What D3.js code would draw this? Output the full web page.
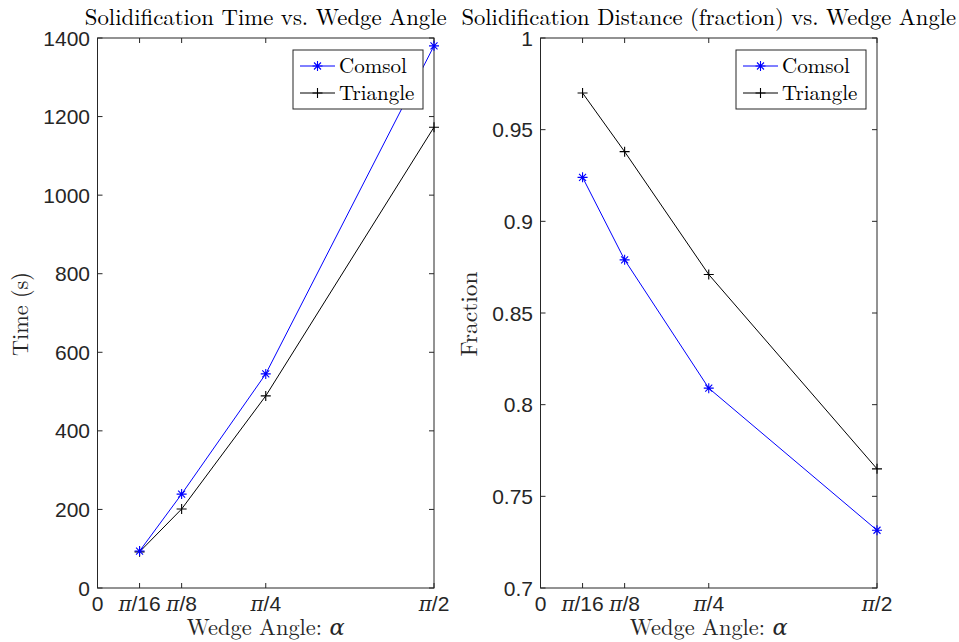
<!DOCTYPE html>
<html><head><meta charset="utf-8">
<script src="https://cdn.jsdelivr.net/npm/d3@7"></script>
<style>body{margin:0;background:#fff}svg{display:block}</style>
</head><body>
<svg id="c" width="959" height="642"></svg>
<script>
const PI = Math.PI;
const angles = [PI/16, PI/8, PI/4, PI/2];
const xTickValues = [0, PI/16, PI/8, PI/4, PI/2];
const xTickLabels = ["0", "π/16", "π/8", "π/4", "π/2"];
const seriesNames = ["Comsol", "Triangle"];
const timeComsol = [94, 239, 545, 1380];
const timeTriangle = [92, 201, 489, 1173];
const fracComsol = [0.924, 0.879, 0.809, 0.7315];
const fracTriangle = [0.970, 0.938, 0.871, 0.765];
const timeTicks = [0, 200, 400, 600, 800, 1000, 1200, 1400];
const fracTicks = [0.7, 0.75, 0.8, 0.85, 0.9, 0.95, 1];
const titles = ["Solidification Time vs. Wedge Angle", "Solidification Distance (fraction) vs. Wedge Angle"];
const yLabels = ["Time (s)", "Fraction"];
const xLabel = "Wedge Angle: ";

const svg = d3.select("#c");
const AX = "#262626";
const serif = "'Latin Modern Roman','CMU Serif','DejaVu Serif',serif";
const sans = "'Liberation Sans',Arial,sans-serif";

function fit(sel, w){
  const n = sel.node(); const l = n.getComputedTextLength();
  const fs = parseFloat(sel.attr("font-size"));
  sel.attr("font-size", fs * w / l);
}

function star(g, x, y, s){
  const p = d3.path();
  p.moveTo(x-s,y);p.lineTo(x+s,y);
  p.moveTo(x,y-s);p.lineTo(x,y+s);
  const d=s*0.7;
  p.moveTo(x-d,y-d);p.lineTo(x+d,y+d);
  p.moveTo(x-d,y+d);p.lineTo(x+d,y-d);
  g.append("path").attr("d",p.toString()).attr("stroke","#0000ff").attr("stroke-width",1.1).attr("fill","none");
}
function plus(g, x, y, s){
  const p = d3.path();
  p.moveTo(x-s,y);p.lineTo(x+s,y);
  p.moveTo(x,y-s);p.lineTo(x,y+s);
  g.append("path").attr("d",p.toString()).attr("stroke","#000").attr("stroke-width",1.1).attr("fill","none");
}

function panel(cfg){
  const {x0,x1,y0,y1,yDomain,yTicks,yFmt,s1,s2,title,titleW,yLabel,yLabelW,yLabelX,legend} = cfg;
  const x = d3.scaleLinear().domain([0, PI/2]).range([x0,x1]);
  const y = d3.scaleLinear().domain(yDomain).range([y1,y0]);
  const g = svg.append("g");
  g.append("rect").attr("x",x0).attr("y",y0).attr("width",x1-x0).attr("height",y1-y0)
    .attr("fill","#fff").attr("stroke",AX).attr("stroke-width",1);
  const tl = 5;
  xTickValues.forEach((v,i)=>{
    const px = x(v);
    g.append("line").attr("x1",px).attr("x2",px).attr("y1",y1).attr("y2",y1-tl).attr("stroke",AX);
    g.append("line").attr("x1",px).attr("x2",px).attr("y1",y0).attr("y2",y0+tl).attr("stroke",AX);
    const t = g.append("text").attr("x",px).attr("y",y1+23).attr("text-anchor","middle")
      .attr("font-family",sans).attr("font-size",21).attr("fill",AX);
    const lab = xTickLabels[i];
    if(lab.startsWith("π")){
      t.append("tspan").attr("font-family",serif).attr("font-style","italic").attr("font-size",20).text("π");
      t.append("tspan").text(lab.slice(1));
    } else t.text(lab);
  });
  yTicks.forEach(v=>{
    const py = y(v);
    g.append("line").attr("x1",x0).attr("x2",x0+tl).attr("y1",py).attr("y2",py).attr("stroke",AX);
    g.append("line").attr("x1",x1).attr("x2",x1-tl).attr("y1",py).attr("y2",py).attr("stroke",AX);
    g.append("text").attr("x",x0-7.5).attr("y",py+7.5).attr("text-anchor","end")
      .attr("font-family",sans).attr("font-size",21).attr("fill",AX).text(yFmt(v));
  });
  const line = d3.line().x((d,i)=>x(angles[i])).y(d=>y(d));
  g.append("path").attr("d",line(s2)).attr("stroke","#000").attr("fill","none").attr("stroke-width",1);
  g.append("path").attr("d",line(s1)).attr("stroke","#0000ff").attr("fill","none").attr("stroke-width",1);
  s2.forEach((d,i)=>plus(g,x(angles[i]),y(d),5));
  s1.forEach((d,i)=>star(g,x(angles[i]),y(d),5));
  const t = g.append("text").attr("x",(x0+x1)/2).attr("y",25).attr("text-anchor","middle")
    .attr("font-family",serif).attr("font-size",19).attr("fill","#000").text(title);
  fit(t, titleW);
  const xl = g.append("text").attr("x",(x0+x1)/2).attr("y",635).attr("text-anchor","middle")
    .attr("font-family",serif).attr("font-size",19).attr("fill","#262626");
  xl.append("tspan").text(xLabel);
  xl.append("tspan").attr("font-style","italic").text("α");
  fit(xl, 158);
  const yl = g.append("text").attr("transform",`translate(${yLabelX},${(y0+y1)/2 + 1}) rotate(-90)`)
    .attr("text-anchor","middle").attr("font-family",serif).attr("font-size",19).attr("fill","#262626").text(yLabel);
  fit(yl, yLabelW);
  const L = legend;
  g.append("rect").attr("x",L.x).attr("y",L.y).attr("width",L.w).attr("height",L.h)
    .attr("fill","#fff").attr("stroke",AX).attr("stroke-width",1);
  const rows = [L.y+16, L.y+43];
  [0,1].forEach(i=>{
    const ry = rows[i];
    g.append("line").attr("x1",L.x+7).attr("x2",L.x+42).attr("y1",ry).attr("y2",ry)
      .attr("stroke", i===0?"#0000ff":"#000").attr("stroke-width",1);
    if(i===0) star(g,L.x+24.5,ry,5); else plus(g,L.x+24.5,ry,5);
    g.append("text").attr("x",L.x+46).attr("y",ry+7).attr("font-family",serif)
      .attr("font-size",21).attr("fill","#000").text(seriesNames[i]);
  });
}

panel({x0:97.5,x1:434,y0:38,y1:588,yDomain:[0,1400],yTicks:timeTicks,yFmt:d=>String(d),
  s1:timeComsol,s2:timeTriangle,title:titles[0],titleW:362,yLabel:yLabels[0],yLabelW:84,yLabelX:28,
  legend:{x:293,y:50,w:130,h:59}});
panel({x0:540.5,x1:877,y0:38,y1:588,yDomain:[0.7,1],yTicks:fracTicks,yFmt:d=>d===1?"1":String(d),
  s1:fracComsol,s2:fracTriangle,title:titles[1],titleW:495,yLabel:yLabels[1],yLabelW:85,yLabelX:477,
  legend:{x:736,y:50,w:130,h:59}});
</script>
</body></html>
